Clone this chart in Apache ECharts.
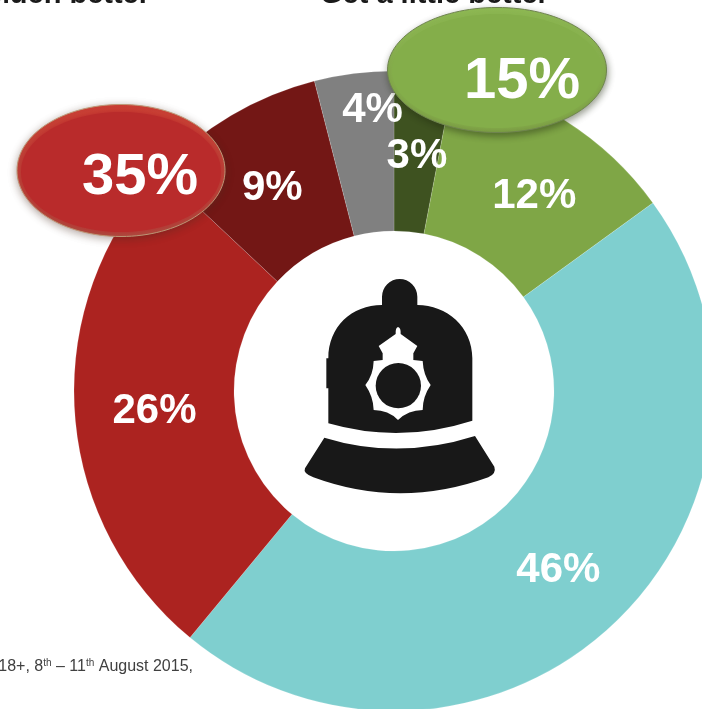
<!DOCTYPE html>
<html><head><meta charset="utf-8">
<style>html,body{margin:0;padding:0;background:#fff;overflow:hidden}#c{width:702px;height:709px}</style>
<script src="https://cdn.jsdelivr.net/npm/echarts@6/dist/echarts.min.js"></script>
</head><body><div id="c"></div>
<script>
const categories = ['Get a little better (dark)', 'Get a little better', 'Stay the same', 'Get a little worse', 'Get much worse', "Don't know"];
const values = [3, 12, 46, 26, 9, 4];
const colors = ['#3e5220', '#7fa646', '#7fcfcf', '#ac2320', '#731715', '#808080'];
const headings = ['Much better', 'Get a little better'];
const summaries = ['35%', '15%'];
const FONT = '"Liberation Sans", Arial, sans-serif';
const HAT = '#181818';
const labelShift = [[0, 7], [10, 11], [-2, 2], [3, 5], [2, 7], [9, -39]];

const chart = echarts.init(document.getElementById('c'), null, {renderer: 'canvas'});
const hatPart = (pathData, fill) => ({
  type: 'path', x: 280, y: 260, scaleX: 1 / 3, scaleY: 1 / 3, silent: true,
  shape: {pathData}, style: {fill}
});
const vGrad = (top, bottom) => ({type: 'linear', x: 0, y: 0, x2: 0, y2: 1, colorStops: [{offset: 0, color: top}, {offset: 1, color: bottom}]});
chart.setOption({
  animation: false,
  backgroundColor: '#ffffff',
  series: [{
    type: 'pie', silent: true, clockwise: true, startAngle: 90,
    center: [394, 391], radius: [160, 320], z: 2,
    avoidLabelOverlap: false, minShowLabelAngle: 0,
    labelLine: {show: false},
    label: {
      show: true, position: 'inside', formatter: '{c}%', color: '#fff', overflow: 'none',
      fontFamily: FONT, fontWeight: 'bold', fontSize: 42
    },
    labelLayout: (p) => ({dx: labelShift[p.dataIndex][0], dy: labelShift[p.dataIndex][1], hideOverlap: false}),
    data: categories.map((name, i) => ({name, value: values[i], itemStyle: {color: colors[i], borderColor: 'rgba(255,255,255,.3)', borderWidth: 0.5}}))
  }, {
    type: 'custom', coordinateSystem: 'none', silent: true, z: 5, data: [0],
    renderItem: () => ({type: 'group', children: [
      hatPart('M145 490 L145 385 L139 385 L139 295 L145 295 C145 200 215 135 306 135 L306 110 A53 53 0 0 1 412 110 L412 135 C500 135 577 200 577 295 L577 482 Q360 552 145 490 Z', HAT),
      hatPart('M133 533 Q355 601 585 528 L643 620 Q650 640 625 652 Q360 748 100 652 Q68 640 75 625 Z', HAT),
      hatPart('M354 201 Q346 203 347 222 L296 258 L308 280 L308 300 L281 303 Q280 345 256 375 Q280 410 281 450 Q325 450 354 480 Q385 450 428 450 Q428 410 452 375 Q430 345 428 303 L400 300 L400 280 L412 258 L362 222 Q363 203 354 201 Z', '#ffffff'),
      hatPart('M287 377 A68 68 0 1 1 423 377 A68 68 0 1 1 287 377 Z', HAT)
    ]})
  }],
  graphic: {elements: [
    {type: 'text', x: 150, y: 9, z: 6, silent: true, style: {text: headings[0], align: 'right', verticalAlign: 'bottom', fontFamily: FONT, fontWeight: 'bold', fontSize: 29, fill: '#1a1a1a'}},
    {type: 'text', x: 320, y: 9, z: 6, silent: true, style: {text: headings[1], align: 'left', verticalAlign: 'bottom', fontFamily: FONT, fontWeight: 'bold', fontSize: 29, fill: '#1a1a1a'}},
    // red badge: bevelled rim, then soft inner face
    {type: 'ellipse', z: 4, silent: true, shape: {cx: 121, cy: 170.5, rx: 104, ry: 66},
      style: {fill: vGrad('#cf3f34', '#b04a40'), stroke: '#bd9a78', lineWidth: 1, shadowBlur: 9, shadowColor: 'rgba(70,40,30,.4)', shadowOffsetY: 2}},
    {type: 'ellipse', z: 4, silent: true, shape: {cx: 121, cy: 172, rx: 100, ry: 60},
      style: {fill: '#b92b2b', shadowBlur: 5, shadowColor: '#b92b2b'}},
    // green badge: bevelled rim, then soft inner face
    {type: 'ellipse', z: 4, silent: true, shape: {cx: 497, cy: 70, rx: 109.5, ry: 62.5},
      style: {fill: vGrad('#93c057', '#7d9f45'), stroke: '#6f8350', lineWidth: 1, shadowBlur: 7, shadowColor: 'rgba(30,40,15,.45)', shadowOffsetX: 1, shadowOffsetY: 3}},
    {type: 'ellipse', z: 4, silent: true, shape: {cx: 497, cy: 71, rx: 105, ry: 57},
      style: {fill: '#84ae4a', shadowBlur: 5, shadowColor: '#84ae4a'}},
    {type: 'text', x: 140, y: 178, z: 6, silent: true, style: {text: summaries[0], align: 'center', verticalAlign: 'middle', fontFamily: FONT, fontWeight: 'bold', fontSize: 58, fill: '#fff'}},
    {type: 'text', x: 522, y: 82, z: 6, silent: true, style: {text: summaries[1], align: 'center', verticalAlign: 'middle', fontFamily: FONT, fontWeight: 'bold', fontSize: 58, fill: '#fff'}},
    {type: 'text', x: 193, y: 667, z: 6, silent: true, style: {
      text: '{a|18+, 8}{s|th}{a| – 11}{s|th}{a| August 2015,}', align: 'right', verticalAlign: 'middle',
      rich: {a: {fontFamily: FONT, fontSize: 16, fill: '#404040', lineHeight: 18},
             s: {fontFamily: FONT, fontSize: 10, fill: '#404040', verticalAlign: 'top', lineHeight: 18}}
    }}
  ]}
});
</script></body></html>
